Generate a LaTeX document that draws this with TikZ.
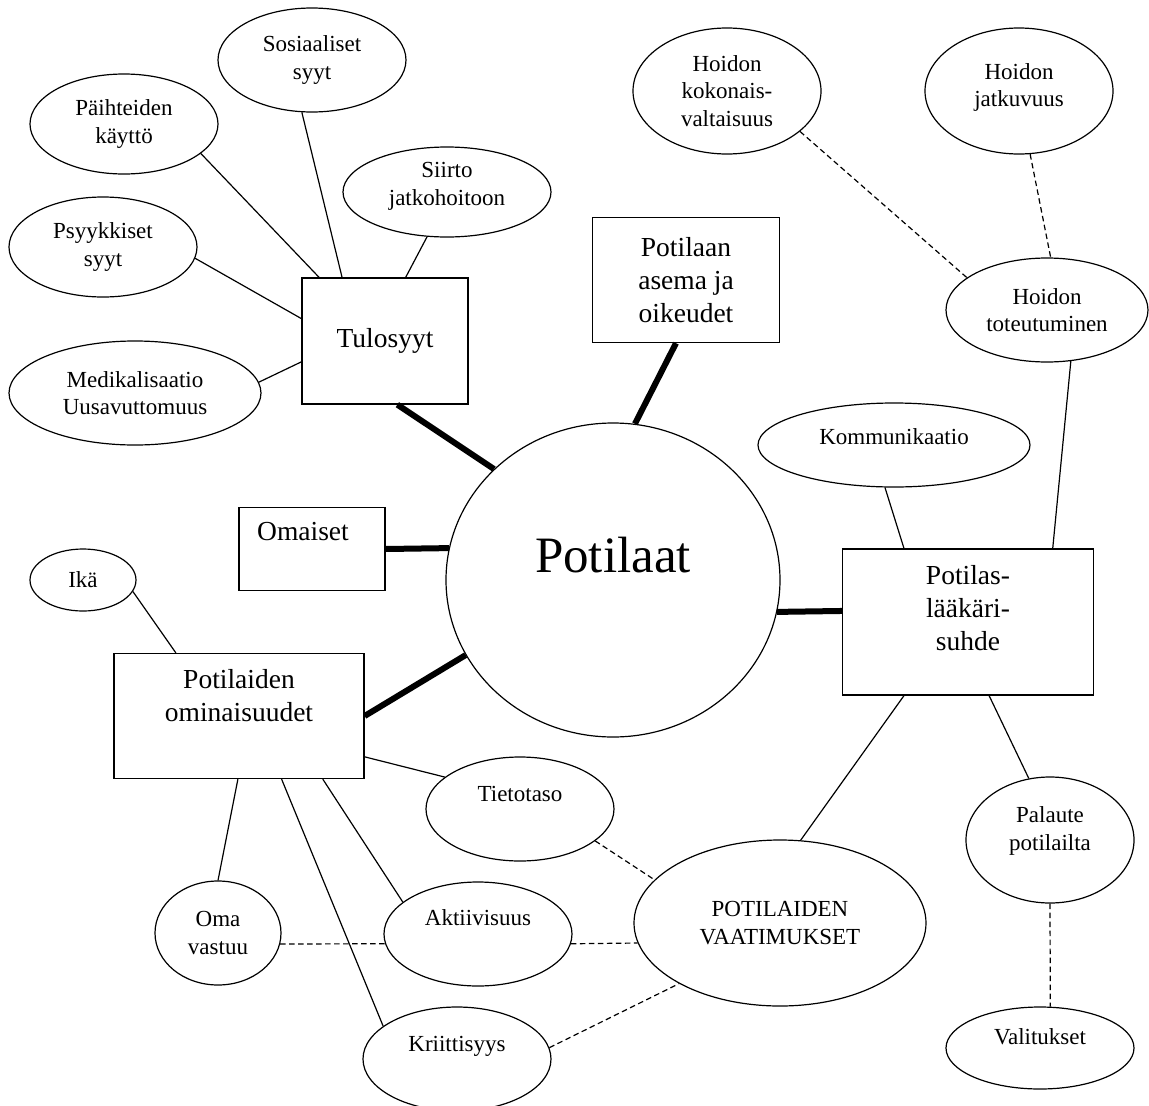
\documentclass[tikz,border=0pt]{standalone}
\usepackage{fontspec}
\setmainfont{Liberation Serif}
\usepackage{tikz}
\usetikzlibrary{shapes.geometric}

\begin{document}
\begin{tikzpicture}[x=1pt, y=-1pt,
		oval/.style={ellipse, draw, line width=1.2pt, inner sep=0pt, align=center, font=\fontsize{23}{27.5}\selectfont},
		boxnode/.style={rectangle, draw, line width=1.3pt, inner sep=0pt, align=center, font=\fontsize{27.5}{33}\selectfont},
		link/.style={line width=1.2pt},
		mainlink/.style={line width=6pt},
		dashlink/.style={line width=1.2pt, dash pattern=on 5.5pt off 3.5pt}]
			\useasboundingbox (0,0) rectangle (1149,1106);
			\fill[white] (0,0) rectangle (1149,1106);

			% Mitte
			\node[oval, minimum width=334pt, minimum height=314pt, text depth=50pt, font=\fontsize{51}{60}\selectfont] (potil) at (613,580) {Potilaat};

			% Ellipsen
			\node[oval, minimum width=188pt, minimum height=104pt] (sosi) at (312,60) {Sosiaaliset\\syyt};
			\node[oval, minimum width=188pt, minimum height=100pt] (paih) at (124,124) {Päihteiden\\käyttö};
			\node[oval, minimum width=208pt, minimum height=90pt] (siirto) at (447,192) {Siirto\\jatkohoitoon\\[-11pt]};
			\node[oval, minimum width=188pt, minimum height=100pt] (psyk) at (103,247) {Psyykkiset\\syyt};
			\node[oval, minimum width=252pt, minimum height=104pt] (medi) at (135,393) {Medikalisaatio\\Uusavuttomuus};
			\node[oval, minimum width=188pt, minimum height=126pt] (kokon) at (727,91) {Hoidon\\kokonais-\\valtaisuus};
			\node[oval, minimum width=188pt, minimum height=126pt] (jatku) at (1019,91) {Hoidon\\jatkuvuus\\[-16pt]};
			\node[oval, minimum width=202pt, minimum height=104pt] (toteu) at (1047,310) {Hoidon\\toteutuminen};
			\node[oval, minimum width=272pt, minimum height=84pt, text depth=16pt] (kommu) at (894,445) {Kommunikaatio};
			\node[oval, minimum width=106pt, minimum height=62pt] (ika) at (83,580) {Ikä};
			\node[oval, minimum width=188pt, minimum height=104pt, text depth=30pt] (tieto) at (520,809) {Tietotaso};
			\node[oval, minimum width=126pt, minimum height=104pt] (oma) at (218,933) {Oma\\vastuu};
			\node[oval, minimum width=188pt, minimum height=104pt, text depth=32pt] (akti) at (478,934) {Aktiivisuus};
			\node[oval, minimum width=188pt, minimum height=104pt, text depth=30pt] (krit) at (457,1059) {Kriittisyys};
			\node[oval, minimum width=292pt, minimum height=166pt] (vaat) at (780,923) {POTILAIDEN\\VAATIMUKSET};
			\node[oval, minimum width=168pt, minimum height=126pt] (pala) at (1050,840) {Palaute\\potilailta\\[-5pt]};
			\node[oval, minimum width=188pt, minimum height=82pt, text depth=22pt] (vali) at (1040,1048) {Valitukset};

			% Kästen
			\node[boxnode, minimum width=166pt, minimum height=126pt] (tulo) at (385,341) {Tulosyyt};
			\node[boxnode, minimum width=187pt, minimum height=125pt] (asema) at (686,280) {Potilaan\\asema ja\\oikeudet};
			\node[boxnode, minimum width=146pt, minimum height=83pt, text depth=36pt] (omai) at (312,549) {Omaiset\hspace*{18pt}};
			\node[boxnode, minimum width=250pt, minimum height=125pt] (omin) at (239,716) {Potilaiden\\ominaisuudet\\[9pt]};
			\node[boxnode, minimum width=251pt, minimum height=146pt] (plsuh) at (968,622) {Potilas-\\lääkäri-\\suhde\\[-4pt]};

			% dicke Linien
			\foreach \a/\b in {tulo.-79/potil.137, asema.-99/potil.82, omai.east/potil.169, potil.-11/plsuh.175, potil.207/omin.east}
				\draw[mainlink] (\a) -- (\b);

			% Linien
			\foreach \a/\b in {
				paih.-21/tulo.136, sosi.-101/tulo.124, siirto.-114/tulo.72, psyk.-7/tulo.165, medi.5/tulo.194,
				toteu.-65/plsuh.41, kommu.-102/plsuh.131,
				ika.-13/omin.135, omin.-18/tieto.157, omin.-91/oma.90, omin.-56/krit.156, omin.-37/akti.157,
				plsuh.229/vaat.76, plsuh.-74/pala.109
			}
				\draw[link] (\a) -- (\b);

			% gestrichelt
			\foreach \a/\b in {kokon.-29/toteu.158, jatku.-80/toteu.86, oma.-10/akti.186, akti.-6/vaat.188, tieto.-23/vaat.161, krit.7/vaat.211, pala.south/vali.76}
				\draw[dashlink] (\a) -- (\b);
		\end{tikzpicture}
\end{document}
